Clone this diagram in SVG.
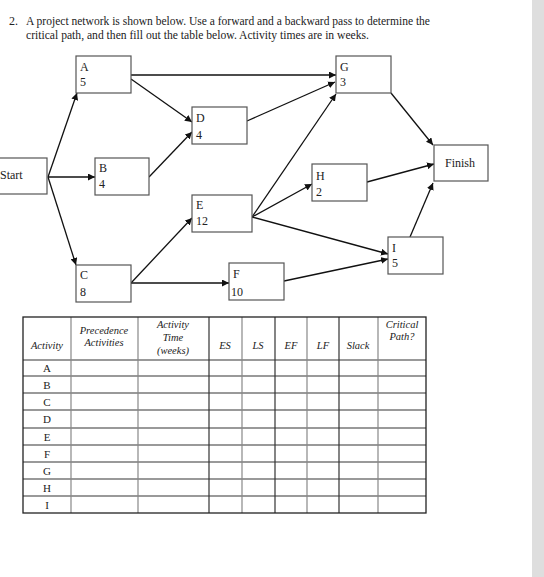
<svg xmlns="http://www.w3.org/2000/svg" width="544" height="577" viewBox="0 0 544 577">
<defs>
<marker id="ah" viewBox="0 0 10 10" refX="10" refY="5" markerWidth="7" markerHeight="7" markerUnits="userSpaceOnUse" orient="auto">
<path d="M0,0 L10,5 L0,10 z" fill="#111"/>
</marker>
<style>
.t{font-family:"Liberation Serif","Times New Roman",serif;fill:#222}
.q{font-size:12px}
.n{font-size:12px}
.box{fill:#fff;stroke:#555;stroke-width:1.2}
.c{stroke:#111;stroke-width:1.3;fill:none;marker-end:url(#ah)}
.h{font-size:10.5px;font-style:italic;text-anchor:middle}
.r{font-size:11px;text-anchor:middle}
.dk{stroke:#333;stroke-width:1.2}
.gv{stroke:#888;stroke-width:1.2}
.gh{stroke:#999;stroke-width:2}
</style>
</defs>
<rect x="0" y="0" width="544" height="577" fill="#fff"/>
<rect x="532" y="0" width="12" height="577" fill="#dedede"/>
<g id="question" class="t q">
<text x="9" y="25">2.</text>
<text x="26" y="25" textLength="404" lengthAdjust="spacingAndGlyphs">A project network is shown below. Use a forward and a backward pass to determine the</text>
<text x="26" y="39" textLength="343" lengthAdjust="spacingAndGlyphs">critical path, and then fill out the table below.  Activity times are in weeks.</text>
</g>
<g id="connectors">
<line class="c" x1="48" y1="177" x2="77" y2="93"/>
<line class="c" x1="48" y1="177" x2="95" y2="177"/>
<line class="c" x1="48" y1="177" x2="76" y2="265"/>
<line class="c" x1="131" y1="75" x2="336" y2="75"/>
<line class="c" x1="131" y1="79" x2="192" y2="122"/>
<line class="c" x1="149" y1="177" x2="192" y2="132"/>
<line class="c" x1="247" y1="121" x2="335" y2="82"/>
<line class="c" x1="252" y1="217" x2="336" y2="94"/>
<line class="c" x1="252" y1="217" x2="312" y2="184"/>
<line class="c" x1="252" y1="217" x2="388" y2="254"/>
<line class="c" x1="131" y1="283" x2="192" y2="218"/>
<line class="c" x1="131" y1="283" x2="229" y2="283"/>
<line class="c" x1="284" y1="281" x2="388" y2="259"/>
<line class="c" x1="410" y1="237" x2="433" y2="183"/>
<line class="c" x1="367" y1="182" x2="434" y2="164"/>
<line class="c" x1="391" y1="93" x2="433" y2="145"/>
</g>
<g id="start"><rect class="box" x="-8" y="158" width="55" height="36"/><text class="t n" x="0" y="179">Start</text></g>
<g id="nodeA"><rect class="box" x="76" y="56" width="55" height="37"/><text class="t n" x="80" y="71">A</text><text class="t n" x="80" y="86">5</text></g>
<g id="nodeB"><rect class="box" x="95" y="158" width="54" height="37"/><text class="t n" x="99" y="172">B</text><text class="t n" x="99" y="188">4</text></g>
<g id="nodeC"><rect class="box" x="76" y="265" width="55" height="37"/><text class="t n" x="80" y="279">C</text><text class="t n" x="80" y="296">8</text></g>
<g id="nodeD"><rect class="box" x="192" y="107" width="55" height="37"/><text class="t n" x="196" y="122">D</text><text class="t n" x="196" y="139">4</text></g>
<g id="nodeE"><rect class="box" x="192" y="195" width="60" height="37"/><text class="t n" x="196" y="209">E</text><text class="t n" x="196" y="225">12</text></g>
<g id="nodeF"><rect class="box" x="229" y="263" width="55" height="37"/><text class="t n" x="233" y="278">F</text><text class="t n" x="231" y="296">10</text></g>
<g id="nodeG"><rect class="box" x="336" y="56" width="55" height="37"/><text class="t n" x="340" y="71">G</text><text class="t n" x="340" y="86">3</text></g>
<g id="nodeH"><rect class="box" x="312" y="164" width="55" height="37"/><text class="t n" x="316" y="180">H</text><text class="t n" x="316" y="196">2</text></g>
<g id="nodeI"><rect class="box" x="388" y="237" width="55" height="37"/><text class="t n" x="392" y="252">I</text><text class="t n" x="392" y="267">5</text></g>
<g id="finish"><rect class="box" x="434" y="145" width="54" height="36"/><text class="t n" x="460" y="167" text-anchor="middle">Finish</text></g>
<g id="table">
<rect x="23" y="317" width="403" height="196" fill="#fff"/>
<g class="gh">
<line x1="23" y1="360" x2="426" y2="360"/>
<line x1="23" y1="376" x2="426" y2="376"/>
<line x1="23" y1="393" x2="426" y2="393"/>
<line x1="23" y1="410" x2="426" y2="410"/>
<line x1="23" y1="428" x2="426" y2="428"/>
<line x1="23" y1="445" x2="426" y2="445"/>
<line x1="23" y1="462" x2="426" y2="462"/>
<line x1="23" y1="479" x2="426" y2="479"/>
<line x1="23" y1="496" x2="426" y2="496"/>
</g>
<g class="gv">
<line x1="71" y1="317" x2="71" y2="513"/>
<line x1="138" y1="317" x2="138" y2="513"/>
<line x1="242" y1="317" x2="242" y2="513"/>
<line x1="307" y1="317" x2="307" y2="513"/>
<line x1="378" y1="317" x2="378" y2="513"/>
</g>
<g class="dk">
<line x1="209" y1="317" x2="209" y2="513"/>
<line x1="275" y1="317" x2="275" y2="513"/>
<line x1="339" y1="317" x2="339" y2="513"/>
</g>
<rect x="23" y="317" width="403" height="196" fill="none" stroke="#222" stroke-width="1.3"/>
<g class="t h">
<text x="47" y="349">Activity</text>
<text x="104" y="334">Precedence</text>
<text x="104" y="346">Activities</text>
<text x="173" y="328">Activity</text>
<text x="173" y="341">Time</text>
<text x="173" y="354">(weeks)</text>
<text x="225" y="349">ES</text>
<text x="258" y="349">LS</text>
<text x="291" y="349">EF</text>
<text x="323" y="349">LF</text>
<text x="358" y="349">Slack</text>
<text x="402" y="328">Critical</text>
<text x="402" y="340">Path?</text>
</g>
<g class="t r">
<text x="47" y="372">A</text>
<text x="47" y="389">B</text>
<text x="47" y="406">C</text>
<text x="47" y="423">D</text>
<text x="47" y="441">E</text>
<text x="47" y="458">F</text>
<text x="47" y="475">G</text>
<text x="47" y="492">H</text>
<text x="47" y="509">I</text>
</g>
</g>
</svg>
